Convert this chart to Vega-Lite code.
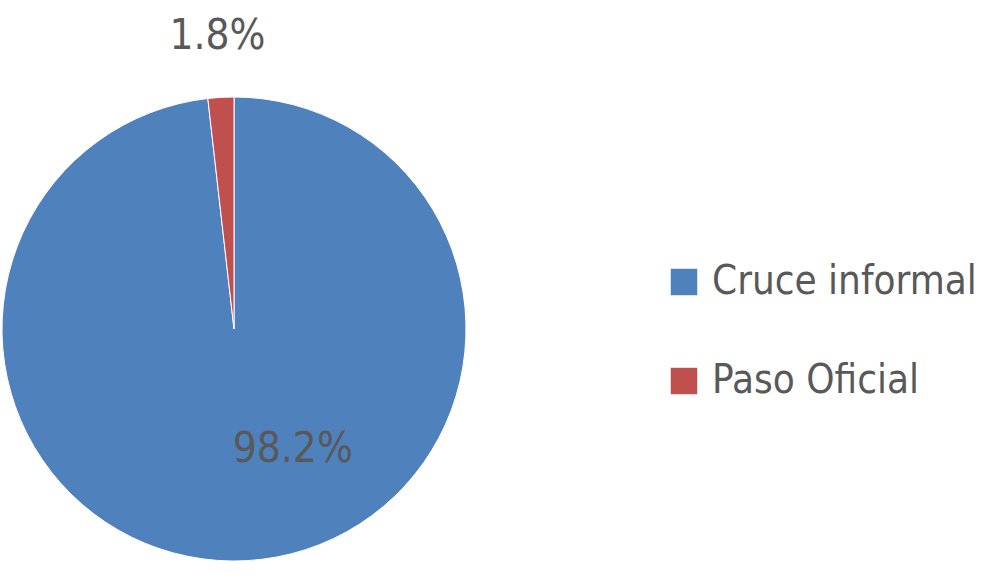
{
  "$schema": "https://vega.github.io/schema/vega-lite/v6.json",
  "width": 466,
  "height": 506,
  "padding": {"top": 15, "left": 0, "right": 10, "bottom": 0},
  "autosize": {"type": "pad"},
  "background": "white",
  "config": {"view": {"stroke": null}, "font": "Liberation Sans Narrow, DejaVu Sans Condensed, sans-serif"},
  "data": {"values": [
    {"category": "Cruce informal", "value": 98.2, "order": 1, "label": "98.2%"},
    {"category": "Paso Oficial", "value": 1.8, "order": 2, "label": "1.8%"}
  ]},
  "encoding": {
    "theta": {"field": "value", "type": "quantitative", "stack": true},
    "order": {"field": "order", "type": "quantitative"}
  },
  "layer": [
    {
      "mark": {"type": "arc", "outerRadius": 232, "stroke": "white", "strokeWidth": 1},
      "encoding": {
        "color": {
          "field": "category", "type": "nominal",
          "scale": {"domain": ["Cruce informal", "Paso Oficial"], "range": ["#4F81BD", "#C0504D"]},
          "legend": {
            "title": null, "orient": "none", "legendX": 663, "legendY": 186,
            "symbolType": "square", "symbolSize": 700, "symbolStrokeWidth": 0,
            "labelFontSize": 40, "labelColor": "#595959", "labelOffset": 8, "labelLimit": 400,
            "rowPadding": 59, "labelFont": "Liberation Sans Narrow, DejaVu Sans Condensed, sans-serif"
          }
        }
      }
    },
    {
      "mark": {"type": "text", "radius": 120, "dx": 52, "fontSize": 42, "color": "#595959", "align": "center", "baseline": "middle"},
      "encoding": {"text": {"condition": {"test": "datum.order == 1", "field": "label"}, "value": ""}}
    },
    {
      "mark": {"type": "text", "radius": 293, "fontSize": 42, "color": "#595959", "align": "center", "baseline": "middle"},
      "encoding": {"text": {"condition": {"test": "datum.order == 2", "field": "label"}, "value": ""}}
    }
  ]
}
